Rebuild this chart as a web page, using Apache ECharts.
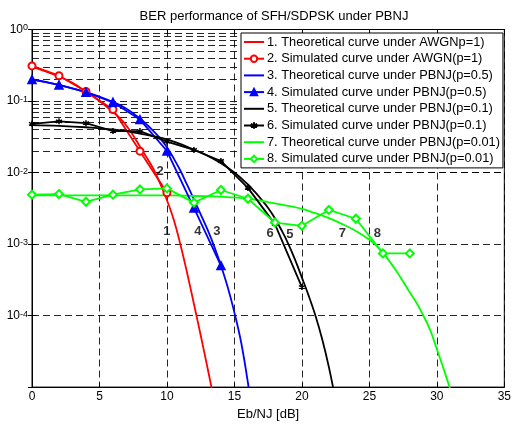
<!DOCTYPE html>
<html>
<head>
<meta charset="utf-8">
<script src="https://cdn.jsdelivr.net/npm/echarts@6/dist/echarts.min.js"></script>
<style>
  html, body { margin: 0; padding: 0; background: #fff; }
  #chart { width: 514px; height: 426px; }
</style>
</head>
<body>
<div id="chart"></div>
<script>
// Eb/NJ sample points of the simulated curves [dB]
const simAwgnX = [0, 2, 4, 6, 8, 10];
const simAwgnY = [0.31, 0.226, 0.136, 0.076, 0.0199, 0.0052];

const simP05X = [0, 2, 4, 6, 8, 10, 12, 14];
const simP05Y = [0.20, 0.168, 0.133, 0.096, 0.055, 0.020, 0.0032, 0.0005];

const simP01X = [0, 2, 4, 6, 8, 10, 12, 14, 16, 18, 20];
const simP01Y = [0.048, 0.052, 0.049, 0.038, 0.038, 0.027, 0.0207, 0.0145, 0.0061, 0.0019, 0.00025];

const simP001X = [0, 2, 4, 6, 8, 10, 12, 14, 16, 18, 20, 22, 24, 26, 28];
const simP001Y = [0.0049, 0.0050, 0.0039, 0.0049, 0.0058, 0.0060, 0.0038, 0.0057, 0.0043, 0.0020, 0.0018, 0.0030, 0.00226, 0.00074, 0.00074];

// Theoretical curves
const thAwgnX = [0, 1, 2, 3, 4, 5, 6, 6.5, 7, 7.5, 8, 8.5, 9, 9.5, 10, 10.5, 11, 11.5, 12, 12.5, 13, 13.5];
const thAwgnY = [0.30, 0.26, 0.22, 0.18, 0.135, 0.10, 0.07, 0.058, 0.045, 0.033, 0.023, 0.0162, 0.0112, 0.0070, 0.0041, 0.0022, 0.00098, 0.00039, 0.000145, 0.000053, 0.0000188, 0.0000065];

const thP05X = [0, 1, 2, 3, 4, 5, 6, 7, 8, 8.5, 9, 9.5, 10, 10.5, 11, 11.5, 12, 12.5, 13, 13.5, 14, 14.5, 15, 15.5, 16, 16.5];
const thP05Y = [0.20, 0.185, 0.168, 0.15, 0.133, 0.115, 0.097, 0.078, 0.057, 0.047, 0.038, 0.030, 0.0225, 0.0158, 0.0106, 0.0067, 0.0042, 0.0026, 0.0016, 0.00093, 0.0005, 0.00025, 0.00011, 0.000042, 0.0000115, 0.0000025];

const thP01X = [0, 2, 4, 6, 8, 10, 12, 13, 14, 15, 16, 16.5, 17, 17.5, 18, 18.5, 19, 19.5, 20, 20.5, 21, 21.5, 22, 22.5];
const thP01Y = [0.046, 0.045, 0.043, 0.040, 0.035, 0.029, 0.021, 0.0172, 0.0135, 0.010, 0.0068, 0.0054, 0.0042, 0.0032, 0.0023, 0.00155, 0.001, 0.0006, 0.00034, 0.00019, 0.0001, 0.000047, 0.000019, 0.0000065];

const thP001X = [0, 5, 10, 12, 14, 16, 18, 20, 21, 22, 23, 24, 25, 25.5, 26, 26.5, 27, 27.5, 28, 28.5, 29, 29.5, 30, 30.5, 31, 31.5];
const thP001Y = [0.0048, 0.0048, 0.0048, 0.0047, 0.0046, 0.0043, 0.0037, 0.0031, 0.0027, 0.0023, 0.0019, 0.00152, 0.00115, 0.00096, 0.00076, 0.00057, 0.00042, 0.0003, 0.00021, 0.00015, 0.0001, 0.000063, 0.000034, 0.000018, 0.0000092, 0.0000045];

// Curve number annotations
const tagText = ['1', '2', '3', '4', '5', '6', '7', '8'];
const tagX = [10.0, 9.5, 13.7, 12.3, 19.1, 17.65, 23.0, 25.6];
const tagY = [0.00148, 0.0105, 0.0015, 0.0015, 0.00136, 0.0014, 0.0014, 0.0014];

const seriesNames = [
  '1. Theoretical curve under AWGNp=1)',
  '2. Simulated curve under AWGN(p=1)',
  '3. Theoretical curve under PBNJ(p=0.5)',
  '4. Simulated curve under PBNJ(p=0.5)',
  '5. Theoretical curve under PBNJ(p=0.1)',
  '6. Simulated curve under PBNJ(p=0.1)',
  '7. Theoretical curve under PBNJ(p=0.01)',
  '8. Simulated curve under PBNJ(p=0.01)'
];

const FONT = '"Liberation Sans", Arial, Helvetica, sans-serif';
const RED = '#ff0000', BLUE = '#0000ff', BLACK = '#000000', GREEN = '#00ff00';

function pairs(xs, ys) { return xs.map((x, i) => [x, ys[i]]); }

// minor log grid values (2..9 x 10^k)
const minorGrid = [];
for (let k = -5; k < 0; k++) {
  for (let m = 2; m <= 9; m++) minorGrid.push({ yAxis: m * Math.pow(10, k) });
}

const gridLine = { color: '#000', width: 1, type: [7, 4], opacity: 0.85 };

function theory(name, xs, ys, color) {
  return {
    name, type: 'line', data: pairs(xs, ys), smooth: 0.4,
    symbol: 'none', z: 3,
    lineStyle: { color, width: 1.8 }, itemStyle: { color }
  };
}
function sim(name, xs, ys, color, symbol, size, fill) {
  return {
    name, type: 'line', data: pairs(xs, ys), symbol, symbolSize: size, z: 4,
    lineStyle: { color, width: 1.8 },
    itemStyle: { color: fill || color, borderColor: color, borderWidth: 1.5 }
  };
}

// legend entries: theoretical curves show a plain line sample
const lineIcon = 'path://M0,0H20V2H0Z';
const legendData = seriesNames.map((n, i) =>
  i % 2 === 0 ? { name: n, icon: lineIcon } : { name: n });

const chart = echarts.init(document.getElementById('chart'), null, { renderer: 'canvas' });
chart.setOption({
  animation: false,
  backgroundColor: '#fff',
  textStyle: { fontFamily: FONT },
  title: {
    text: 'BER performance of SFH/SDPSK under PBNJ',
    left: 269, textAlign: 'center', top: 5,
    textStyle: { fontSize: 13, fontWeight: 'normal', color: '#000', fontFamily: FONT }
  },
  grid: {
    left: 32, right: 8, top: 29.5, bottom: 36.5,
    show: true, borderColor: '#000', borderWidth: 1, backgroundColor: 'transparent'
  },
  legend: {
    data: legendData,
    orient: 'vertical', left: 241, top: 33, z: 100,
    padding: [2, 3, 2, 2],
    itemWidth: 20, itemHeight: 8, itemGap: 2.7,
    backgroundColor: '#ffffff', borderColor: '#000', borderWidth: 1, borderRadius: 0,
    textStyle: { fontSize: 12.8, color: '#000', lineHeight: 14, fontFamily: FONT, padding: [0, 0, 0, -2] }
  },
  xAxis: [{
    type: 'value', min: 0, max: 35, interval: 5,
    name: 'Eb/NJ [dB]', nameLocation: 'middle', nameGap: 17,
    nameTextStyle: { fontSize: 13, color: '#000', fontFamily: FONT },
    axisLine: { show: true, lineStyle: { color: '#000', width: 1 } },
    axisTick: { show: true, inside: true, length: 4, lineStyle: { color: '#000' } },
    axisLabel: { fontSize: 12, color: '#000', margin: 4, fontFamily: FONT },
    splitLine: { show: true, lineStyle: gridLine }
  }, {
    type: 'value', min: 0, max: 35, interval: 5, position: 'top',
    axisLine: { show: true, lineStyle: { color: '#000' } },
    axisTick: { show: true, inside: true, length: 4, lineStyle: { color: '#000' } },
    axisLabel: { show: false }, splitLine: { show: false }
  }],
  yAxis: [{
    type: 'log', logBase: 10, min: 1e-5, max: 1, interval: 1,
    axisLine: { show: true, lineStyle: { color: '#000', width: 1 } },
    axisTick: { show: true, inside: true, length: 4, lineStyle: { color: '#000' } },
    axisLabel: {
      margin: 4, color: '#000',
      formatter: function (v) {
        const e = Math.round(Math.log10(v));
        if (e === -5) return '';
        return '{b|10}{e|' + e + '}';
      },
      rich: {
        b: { fontSize: 12, color: '#000', fontFamily: FONT },
        e: { fontSize: 9, color: '#000', fontFamily: FONT, verticalAlign: 'top' }
      }
    },
    splitLine: { show: true, lineStyle: gridLine }
  }, {
    type: 'log', logBase: 10, min: 1e-5, max: 1, interval: 1, position: 'right',
    axisLine: { show: true, lineStyle: { color: '#000' } },
    axisTick: { show: true, inside: true, length: 4, lineStyle: { color: '#000' } },
    axisLabel: { show: false }, splitLine: { show: false }
  }],
  series: [
    {
      name: 'minor-grid', type: 'line', data: [], z: 1, silent: true,
      markLine: {
        silent: true, symbol: ['none', 'none'], label: { show: false },
        lineStyle: gridLine, animation: false, z: 1,
        data: minorGrid
      }
    },
    theory(seriesNames[0], thAwgnX, thAwgnY, RED),
    sim(seriesNames[1], simAwgnX, simAwgnY, RED, 'emptyCircle', 7),
    theory(seriesNames[2], thP05X, thP05Y, BLUE),
    sim(seriesNames[3], simP05X, simP05Y, BLUE, 'triangle', 8),
    theory(seriesNames[4], thP01X, thP01Y, BLACK),
    sim(seriesNames[5], simP01X, simP01Y, BLACK,
        'path://M5,0L5,10M0.7,2.5L9.3,7.5M0.7,7.5L9.3,2.5', 6),
    theory(seriesNames[6], thP001X, thP001Y, GREEN),
    sim(seriesNames[7], simP001X, simP001Y, GREEN, 'emptyDiamond', 8),
    {
      name: 'tags', type: 'scatter', z: 6, silent: true,
      symbolSize: 0,
      data: tagX.map((x, i) => ({ value: [x, tagY[i]], name: tagText[i] })),
      label: {
        show: true, position: 'inside', formatter: '{b}',
        fontSize: 13, fontWeight: 'bold', color: '#000', fontFamily: FONT
      }
    }
  ]
});
</script>
</body>
</html>
